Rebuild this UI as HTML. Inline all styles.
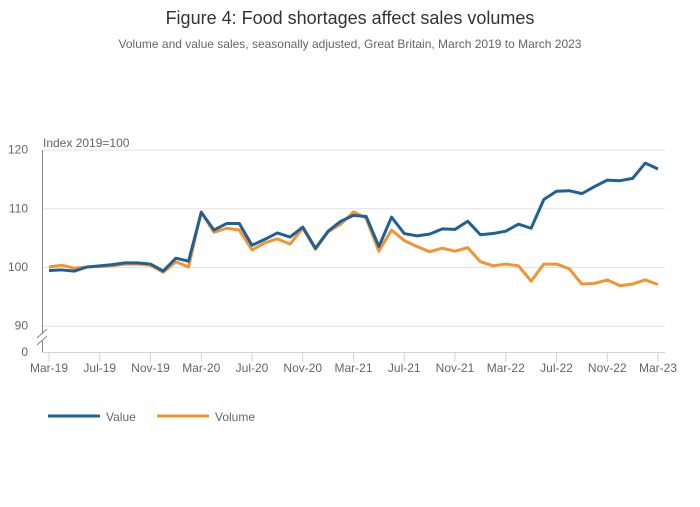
<!DOCTYPE html>
<html><head><meta charset="utf-8"><style>
body{margin:0;background:#fff;font-family:"Liberation Sans","DejaVu Sans",sans-serif;}
svg text{font-family:"Liberation Sans","DejaVu Sans",sans-serif;}
</style></head><body>
<svg id="chart" width="700" height="502" xmlns="http://www.w3.org/2000/svg">
<text x="350" y="24" text-anchor="middle" font-size="18" fill="#333">Figure 4: Food shortages affect sales volumes</text>
<text x="350" y="48" text-anchor="middle" font-size="12" fill="#666">Volume and value sales, seasonally adjusted, Great Britain, March 2019 to March 2023</text>
<text x="43" y="147" font-size="12" fill="#666">Index 2019=100</text>
<g id="grid"></g>
<line x1="42.5" y1="150" x2="42.5" y2="334" stroke="#888" stroke-width="1"/>
<line x1="42.5" y1="341" x2="42.5" y2="352" stroke="#888" stroke-width="1"/>
<line x1="37" y1="338" x2="47" y2="329" stroke="#888"/>
<line x1="37" y1="345" x2="47" y2="336" stroke="#888"/>
<text x="28" y="356" text-anchor="end" font-size="12" fill="#666">0</text>
<line x1="42" y1="352.5" x2="665" y2="352.5" stroke="#c8d4ea" stroke-width="1"/>
<g id="xaxis"></g>
<g id="series"></g>
<g>
<line x1="48" y1="416" x2="100" y2="416" stroke="#206095" stroke-width="3"/>
<text x="106" y="421" font-size="12" fill="#666">Value</text>
<line x1="157" y1="416" x2="209" y2="416" stroke="#f39431" stroke-width="3"/>
<text x="215" y="421" font-size="12" fill="#666">Volume</text>
</g>
</svg>
<script>
const valueSeries=[99.4,99.5,99.3,100,100.2,100.4,100.7,100.7,100.5,99.3,101.5,101.0,109.3,106.3,107.4,107.4,103.7,104.7,105.8,105.1,106.8,103.2,106.1,107.8,108.8,108.6,103.5,108.5,105.7,105.3,105.6,106.5,106.4,107.8,105.5,105.7,106.1,107.3,106.6,111.5,112.9,113.0,112.5,113.7,114.8,114.7,115.1,117.7,116.7];
const volumeSeries=[100.0,100.3,99.8,100,100.1,100.2,100.5,100.5,100.3,99.1,100.9,100.0,109.4,105.9,106.6,106.3,102.9,104.1,104.8,103.9,106.6,103.0,106.0,107.3,109.4,108.3,102.7,106.3,104.5,103.5,102.6,103.2,102.7,103.3,100.9,100.2,100.5,100.2,97.6,100.5,100.5,99.7,97.1,97.2,97.8,96.8,97.1,97.8,97.0];
const xTickLabels=["Mar-19","Jul-19","Nov-19","Mar-20","Jul-20","Nov-20","Mar-21","Jul-21","Nov-21","Mar-22","Jul-22","Nov-22","Mar-23"];
const yTicks=[90,100,110,120];
const NS="http://www.w3.org/2000/svg";
const x=i=>49+i*(658-49)/48;
const y=v=>267-(v-100)*5.87;
function mk(t,a,p){const e=document.createElementNS(NS,t);for(const k in a)e.setAttribute(k,a[k]);p.appendChild(e);return e;}
const grid=document.getElementById('grid');
yTicks.forEach(t=>{
 const l=mk('line',{x1:42,x2:665,y1:y(t)+0.5,y2:y(t)+0.5,stroke:'#e2e2e2','stroke-width':1},grid);
 
 
 const tx=mk('text',{x:28,y:y(t)+4,'text-anchor':'end','font-size':12,fill:'#666'},grid);
 tx.textContent=t;
 
 
});
const xa=document.getElementById('xaxis');
xTickLabels.forEach((lab,j)=>{
 const xi=x(j*4);
 const l=mk('line',{x1:xi,x2:xi,y1:352,y2:362,stroke:'#c8d4ea'},xa);
 
 
 const t=mk('text',{x:xi,y:372,'text-anchor':'middle','font-size':12,fill:'#666'},xa);
 t.textContent=lab;
 
 
});
const sg=document.getElementById('series');
[[volumeSeries,'#f39431','volume-line'],[valueSeries,'#206095','value-line']].forEach(([d,c,n])=>{
 const p=mk('polyline',{points:d.map((v,i)=>x(i)+','+y(v)).join(' '),fill:'none',stroke:c,'stroke-width':3,'stroke-linejoin':'round'},sg);
 
 
});
</script>
</body></html>
